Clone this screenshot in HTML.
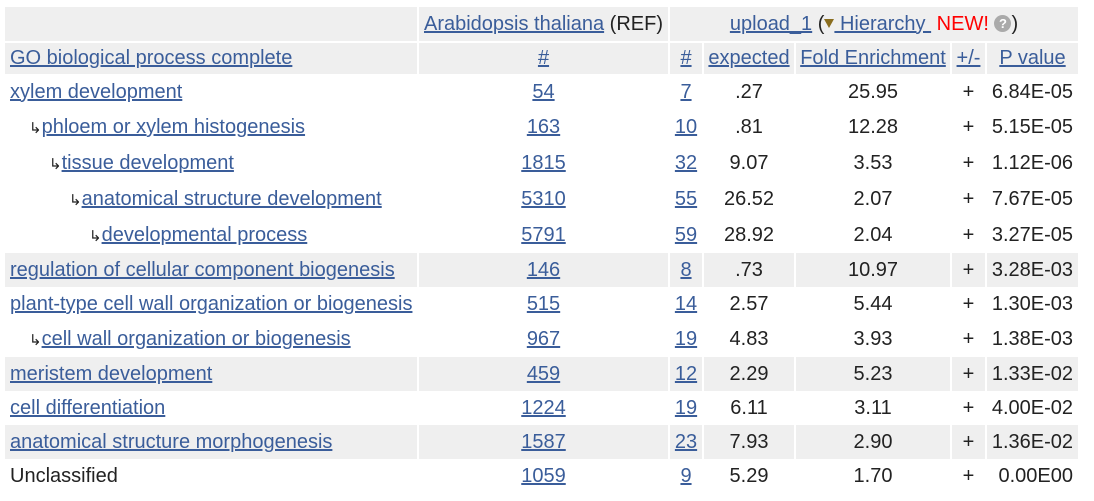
<!DOCTYPE html>
<html><head><meta charset="utf-8"><style>
body{margin:0;background:#fff;font-family:"Liberation Sans",Arial,sans-serif;font-size:20px;color:#222;width:1094px;height:501px;overflow:hidden}
table{position:absolute;left:3px;top:7px;border-collapse:separate;border-spacing:2px 0;table-layout:fixed}
td{padding:0;white-space:nowrap;overflow:hidden}
a{color:#3a5d9a;text-decoration:underline}
.h td{background:#efefef;height:34px}
.h2 td{height:31px;border-top:2px solid #fff}
.g td{background:#efefef}
.c{text-align:center}
.r{text-align:right;padding-right:5px}
.n{padding-left:5px}
.arr{font-size:15px;color:#222;text-decoration:none}
.red{color:#f00}
.q{display:inline-block;width:17px;height:17px;border-radius:50%;background:#aaa;color:#fff;font-size:13px;line-height:17px;text-align:center;font-weight:bold;vertical-align:2px}
.tri{display:inline-block;width:0;height:0;border-left:5px solid transparent;border-right:5px solid transparent;border-top:9px solid #8a6d1e;vertical-align:2px}
#body td{padding-top:1px}
</style></head><body>
<table>
<colgroup><col style="width:412px"><col style="width:249px"><col style="width:32px"><col style="width:90px"><col style="width:154px"><col style="width:33px"><col style="width:91px"></colgroup>
<thead>
<tr class="h">
<td></td>
<td class="c"><a href="#">Arabidopsis thaliana</a> (REF)</td>
<td class="c" colspan="5"><a href="#">upload_1</a> (<a href="#"><span class="tri"></span> Hierarchy </a>&nbsp;<span class="red">NEW!</span> <span class="q">?</span>)</td>
</tr>
<tr class="h h2">
<td class="n"><a href="#">GO biological process complete</a></td>
<td class="c"><a href="#">#</a></td>
<td class="c"><a href="#">#</a></td>
<td class="c"><a href="#">expected</a></td>
<td class="c"><a href="#">Fold Enrichment</a></td>
<td class="c"><a href="#">+/-</a></td>
<td class="c"><a href="#">P value</a></td>
</tr>
</thead>
<tbody id="body"></tbody>
</table>
<script>
const terms=["xylem development","phloem or xylem histogenesis","tissue development","anatomical structure development","developmental process","regulation of cellular component biogenesis","plant-type cell wall organization or biogenesis","cell wall organization or biogenesis","meristem development","cell differentiation","anatomical structure morphogenesis","Unclassified"];
const levels=[0,1,2,3,4,0,0,1,0,0,0,0];
const refCounts=["54","163","1815","5310","5791","146","515","967","459","1224","1587","1059"];
const counts=["7","10","32","55","59","8","14","19","12","19","23","9"];
const expected=[".27",".81","9.07","26.52","28.92",".73","2.57","4.83","2.29","6.11","7.93","5.29"];
const fold=["25.95","12.28","3.53","2.07","2.04","10.97","5.44","3.93","5.23","3.11","2.90","1.70"];
const pvals=["6.84E-05","5.15E-05","1.12E-06","7.67E-05","3.27E-05","3.28E-03","1.30E-03","1.38E-03","1.33E-02","4.00E-02","1.36E-02","0.00E00"];
const shaded=[0,0,0,0,0,1,0,0,1,0,1,0];
const heights=[34,35,35,35,35,33,33,35,33,33,33,33];
const tb=document.getElementById('body');
terms.forEach((t,i)=>{
 const tr=document.createElement('tr');
 
 
 if(shaded[i])tr.className='g';
 const lv=levels[i];
 const termHtml=t==='Unclassified'?t:`<a href="#">${t}</a>`;
 const ind=lv?`<span style="display:inline-block;width:${20*lv-1}px"></span><span class="arr">&#8627;</span>`:'';
 tr.innerHTML=`<td class="n" style="height:${heights[i]}px">${ind}${termHtml}</td><td class="c"><a href="#">${refCounts[i]}</a></td><td class="c"><a href="#">${counts[i]}</a></td><td class="c">${expected[i]}</td><td class="c">${fold[i]}</td><td class="c">+</td><td class="r">${pvals[i]}</td>`;
 tb.appendChild(tr);
});
</script>
</body></html>
